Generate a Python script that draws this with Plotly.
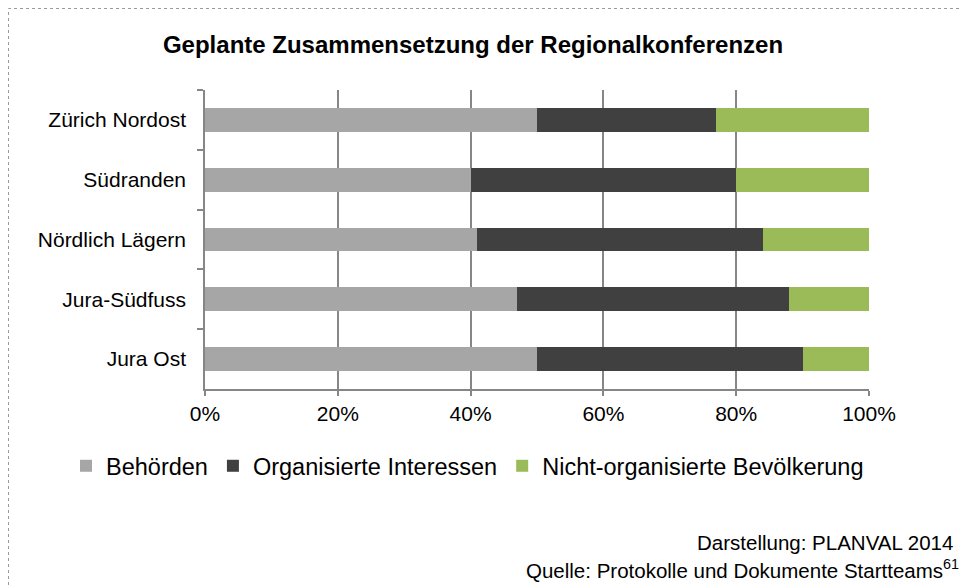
import plotly.graph_objects as go

regions = ["Zürich Nordost", "Südranden", "Nördlich Lägern", "Jura-Südfuss", "Jura Ost"]
behoerden = [50, 40, 41, 47, 50]
organisierte = [27, 40, 43, 41, 40]
nicht_org = [23, 20, 16, 12, 10]
series_names = ["Behörden", "Organisierte Interessen", "Nicht-organisierte Bevölkerung"]
series_colors = ["#A6A6A6", "#404040", "#9BBB59"]
x_tickvals = [0, 20, 40, 60, 80, 100]
x_ticktext = ["0%", "20%", "40%", "60%", "80%", "100%"]

FONT = "Liberation Sans, Arial, sans-serif"
W, H = 962, 588
L, R, T, B = 205, 93, 90, 199

fig = go.Figure()
for name, vals, col in zip(series_names, [behoerden, organisierte, nicht_org], series_colors):
    fig.add_trace(go.Bar(
        y=regions, x=vals, name=name, orientation="h",
        marker=dict(color=col, line=dict(width=0)),
    ))

pw = W - L - R
ph = H - T - B

def px2paper_x(px):
    return (px - L) / pw

def py2paper_y(py):
    return (H - B - py) / ph

fig.update_layout(
    width=W, height=H,
    margin=dict(l=L, r=R, t=T, b=B, pad=0),
    barmode="stack",
    bargap=0.6,
    plot_bgcolor="white",
    paper_bgcolor="white",
    font=dict(family=FONT, size=21, color="#000000"),
    title=dict(
        text="<b>Geplante Zusammensetzung der Regionalkonferenzen</b>",
        x=473 / W, xanchor="center", xref="container",
        y=1 - 45 / H, yanchor="middle", yref="container",
        font=dict(family=FONT, size=24, color="#000000"),
    ),
    xaxis=dict(
        range=[0, 100],
        tickvals=x_tickvals, ticktext=x_ticktext,
        showgrid=True, gridcolor="#868686", gridwidth=1.5,
        showline=True, linecolor="#868686", linewidth=1.5,
        ticks="outside", ticklen=5, tickcolor="#868686", tickwidth=1.5,
        zeroline=False,
        tickfont=dict(family=FONT, size=21),
    ),
    yaxis=dict(
        categoryorder="array", categoryarray=regions,
        autorange="reversed",
        showgrid=False,
        showline=True, linecolor="#868686", linewidth=1.5,
        ticks="outside", ticklen=6, tickcolor="#868686", tickwidth=1.5,
        tickson="boundaries",
        ticklabelstandoff=13,
        tickfont=dict(family=FONT, size=21),
    ),
    legend=dict(
        orientation="h",
        x=px2paper_x(66), xanchor="left",
        y=py2paper_y(466), yanchor="middle",
        font=dict(family=FONT, size=23.5),
        traceorder="normal",
        bgcolor="rgba(0,0,0,0)",
    ),
    showlegend=True,
)

fig.add_annotation(
    text="Darstellung: PLANVAL 2014",
    xref="paper", yref="paper",
    x=px2paper_x(955), y=py2paper_y(542.5),
    xanchor="right", yanchor="middle",
    showarrow=False, font=dict(family=FONT, size=20.5),
)
fig.add_annotation(
    text="Quelle: Protokolle und Dokumente Startteams<sup>61</sup>",
    xref="paper", yref="paper",
    x=px2paper_x(961), y=py2paper_y(569),
    xanchor="right", yanchor="middle",
    showarrow=False, font=dict(family=FONT, size=20.5),
)

fig.add_shape(
    type="rect", xref="paper", yref="paper",
    x0=px2paper_x(8.5), x1=px2paper_x(1000),
    y0=py2paper_y(620), y1=py2paper_y(8.5),
    line=dict(color="#9A9A9A", width=1, dash="dot"),
    fillcolor="rgba(0,0,0,0)", layer="above",
)

fig.write_html("out.html")
